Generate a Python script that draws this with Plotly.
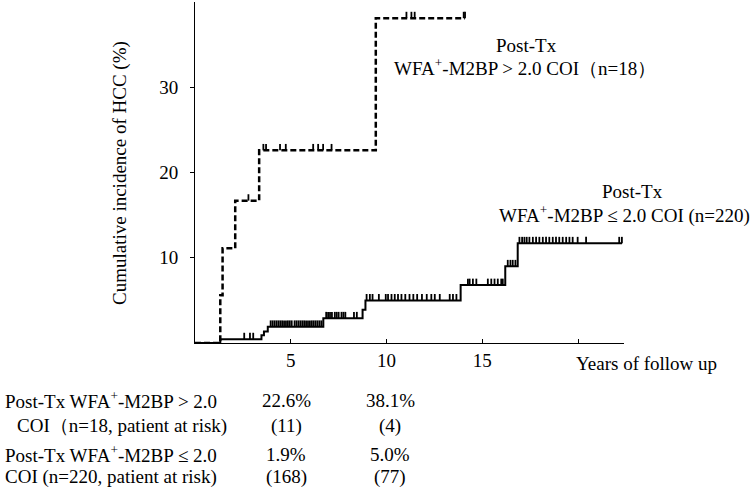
import numpy as np
import plotly.graph_objects as go

# ---------------- data (years, cumulative incidence %) ----------------
high_step_t = [0, 1.32, 1.44, 2.10, 3.35, 9.44]
high_step_v = [0, 5.6, 11.1, 16.7, 22.6, 38.1]
high_end_t = 14.1
high_censor_t = [2.79, 3.57, 3.71, 4.44, 4.74, 6.17, 6.43, 6.69, 7.13,
                 11.04, 11.30, 11.47, 14.03, 14.1]

low_step_t = [0, 1.32, 3.47, 3.60, 3.80, 6.70, 8.75, 8.90, 13.87, 16.20, 16.85]
low_step_v = [0, 0.45, 0.9, 1.35, 1.9, 2.9, 3.9, 5.0, 6.8, 9.0, 11.7]
low_end_t = 22.3
low_censor_t = [2.57, 2.87, 3.04,
                3.95, 4.05, 4.15, 4.25, 4.35, 4.45, 4.55, 4.65, 4.75, 4.85, 4.95,
                5.05, 5.2, 5.3, 5.4, 5.5, 5.6, 5.7, 5.8, 5.9, 6.0, 6.1, 6.2, 6.3,
                6.4, 6.5, 6.6,
                6.85, 6.95, 7.05, 7.15, 7.3, 7.4, 7.5, 7.65, 7.75, 7.85, 8.3, 8.45,
                8.96, 9.13, 9.27, 9.6, 9.96, 10.08, 10.26, 10.43, 10.6, 10.78,
                10.98, 11.2, 11.4, 11.6, 11.85, 12.1, 12.34, 12.52, 12.78, 13.3,
                13.47, 13.65,
                14.25, 14.34, 14.51, 14.69, 15.29, 15.47, 15.64, 15.81, 15.99, 16.07,
                16.33, 16.47, 16.59, 16.73,
                16.94, 17.08, 17.2, 17.32, 17.46, 17.64, 17.81, 17.98, 18.16, 18.33,
                18.5, 18.68, 18.85, 19.02, 19.2, 19.38, 19.55, 19.72, 19.98, 20.42,
                22.15, 22.29]

x_tickvals = [5, 10, 15, 20]
x_ticktext = ["5", "10", "15", ""]
y_tickvals = [10, 20, 30]

label_high = ["Post-Tx", "WFA<sup>+</sup>-M2BP > 2.0 COI（n=18）"]
label_low = ["Post-Tx", "WFA<sup>+</sup>-M2BP ≤ 2.0 COI (n=220)"]
x_title = "Years of follow up"
y_title = "Cumulative incidence of HCC (%)"

table_rows = ["Post-Tx WFA<sup>+</sup>-M2BP > 2.0",
              "COI（n=18, patient at risk)",
              "Post-Tx WFA<sup>+</sup>-M2BP ≤ 2.0",
              "COI (n=220, patient at risk)"]
table_col5 = ["22.6%", "(11)", "1.9%", "(168)"]
table_col10 = ["38.1%", "(4)", "5.0%", "(77)"]

# ---------------- helpers ----------------
TICK_H = 0.75  # censor tick height (% units)


def step_xy(ts, vs, end):
    return list(ts) + [end], list(vs) + [vs[-1]]


def censor_xy(ts, step_t, step_v):
    xs, ys = [], []
    st = np.array(step_t)
    for t in ts:
        i = np.searchsorted(st, t, side="right") - 1
        v = step_v[i]
        xs += [t, t, None]
        ys += [v, v + TICK_H, None]
    return xs, ys


FONT = "Liberation Serif"
FS = 19
fig = go.Figure()

hx, hy = step_xy(high_step_t, high_step_v, high_end_t)
fig.add_trace(go.Scatter(x=hx, y=hy, mode="lines", line_shape="hv",
                         line=dict(color="black", width=2.5, dash="6px,3px"),
                         cliponaxis=False, showlegend=False))
cx, cy = censor_xy(high_censor_t, high_step_t, high_step_v)
fig.add_trace(go.Scatter(x=cx, y=cy, mode="lines",
                         line=dict(color="black", width=1.8),
                         cliponaxis=False, showlegend=False))

lx, ly = step_xy(low_step_t, low_step_v, low_end_t)
fig.add_trace(go.Scatter(x=lx, y=ly, mode="lines", line_shape="hv",
                         line=dict(color="black", width=2),
                         cliponaxis=False, showlegend=False))
cx, cy = censor_xy(low_censor_t, low_step_t, low_step_v)
fig.add_trace(go.Scatter(x=cx, y=cy, mode="lines",
                         line=dict(color="black", width=1.8),
                         cliponaxis=False, showlegend=False))

L, R, T, B = 195, 126, 2, 145
W, H = 750, 488
PW, PH = W - L - R, H - T - B


def px(p):
    return (p - L) / PW


def py(p):
    return (H - B - p) / PH


ann = []


def add(text, x, y, xanchor="center", angle=0):
    ann.append(dict(text=text, x=px(x), y=py(y), xref="paper", yref="paper",
                    xanchor=xanchor, yanchor="middle", showarrow=False,
                    textangle=angle, font=dict(family=FONT, size=FS, color="black")))


add(label_high[0], 526, 45)
add(label_high[1], 525, 67)
add(label_low[0], 632, 192)
add(label_low[1], 624, 214)
add(x_title, 646, 363)
add(y_title, 120, 173, angle=-90)

row_y = [400, 426, 454, 477]
row_x = [3, 15, 3, 3]
for txt, xx, yy, c5, c10 in zip(table_rows, row_x, row_y, table_col5, table_col10):
    add(txt, xx, yy, xanchor="left")
    add(c5, 286, yy)
    add(c10, 390, yy)

fig.update_layout(
    width=W, height=H,
    margin=dict(l=L, r=R, t=T, b=B),
    plot_bgcolor="white", paper_bgcolor="white",
    font=dict(family=FONT, size=FS, color="black"),
    annotations=ann,
    xaxis=dict(range=[0, 22.4], showgrid=False, zeroline=False,
               showline=True, linecolor="black", linewidth=1,
               ticks="inside", ticklen=4, tickcolor="black",
               tickvals=x_tickvals, ticktext=x_ticktext,
               tickfont=dict(family=FONT, size=FS)),
    yaxis=dict(range=[0, 40], showgrid=False, zeroline=False,
               showline=True, linecolor="black", linewidth=1,
               ticks="outside", ticklen=4, tickcolor="black",
               tickvals=y_tickvals, ticklabelstandoff=8,
               tickfont=dict(family=FONT, size=FS)),
)

fig.write_html("out.html", config={"displayModeBar": False},
               post_script="document.body.style.margin='0';document.body.style.padding='0';")
